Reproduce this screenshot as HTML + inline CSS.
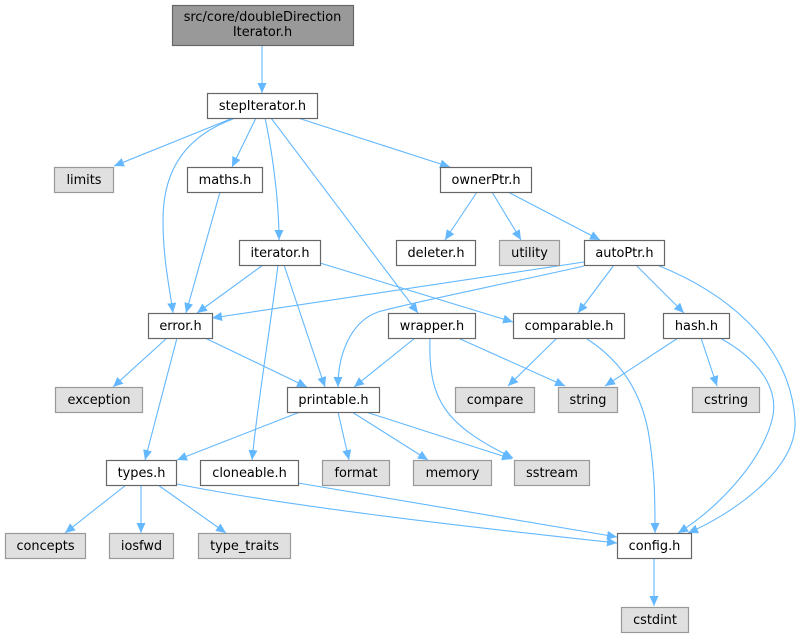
<!DOCTYPE html>
<html><head><meta charset="utf-8"><style>
html,body{margin:0;padding:0;background:#fff;}
svg{display:block;}
text{font-family:"DejaVu Sans","Liberation Sans",sans-serif;font-size:12.9px;fill:#000;text-anchor:middle;}
.e{fill:none;stroke:#63b8ff;stroke-width:1.1;marker-end:url(#a);}
.w{fill:#fff;stroke:#666;stroke-width:1.2;}
.g{fill:#e0e0e0;stroke:#999;stroke-width:1.2;}
</style></head><body>
<svg width="801" height="637" viewBox="0 0 801 637" xmlns="http://www.w3.org/2000/svg">
<defs>
<marker id="a" markerUnits="userSpaceOnUse" markerWidth="12" markerHeight="10" refX="10" refY="4.5" orient="auto">
<path d="M0,0 L10,4.5 L0,9z" fill="#63b8ff"/>
</marker>
</defs>
<!-- edges -->
<path class="e" d="M262,45 L262,93"/>
<path class="e" d="M233,118 L114,166"/>
<path class="e" d="M233,119 C190,135 163,165 163,220 C163,260 170,290 173,313"/>
<path class="e" d="M256,118 L232,167"/>
<path class="e" d="M265,118 C272,150 279,200 279,240"/>
<path class="e" d="M271,118 L418,313"/>
<path class="e" d="M298,118 L450,167"/>
<path class="e" d="M220,192 L186,313"/>
<path class="e" d="M477,192 L445,240"/>
<path class="e" d="M492,192 L521,240"/>
<path class="e" d="M508,192 L600,240"/>
<path class="e" d="M263,265 L197,313"/>
<path class="e" d="M284,265 L325,387"/>
<path class="e" d="M278,265 C270,330 258,400 252,460"/>
<path class="e" d="M320,263 L513,322"/>
<path class="e" d="M584,262 L212,318"/>
<path class="e" d="M584,266 C500,285 400,305 378,312 C350,322 338,355 338,387"/>
<path class="e" d="M614,265 L578,313"/>
<path class="e" d="M636,265 L684,313"/>
<path class="e" d="M657,265 C720,290 790,340 795,420 C798,470 730,515 688,533"/>
<path class="e" d="M167,338 L113,387"/>
<path class="e" d="M177,338 L145,460"/>
<path class="e" d="M205,338 L307,387"/>
<path class="e" d="M415,338 L354,387"/>
<path class="e" d="M458,338 L565,386"/>
<path class="e" d="M430,339 C428,400 445,425 513,458"/>
<path class="e" d="M557,338 L508,386"/>
<path class="e" d="M587,339 C620,360 640,390 648,430 C655,470 655,500 655,533"/>
<path class="e" d="M678,338 L605,386"/>
<path class="e" d="M701,338 L717,386"/>
<path class="e" d="M720,338 C760,360 780,390 772,420 C760,465 715,510 678,533"/>
<path class="e" d="M300,412 L177,460"/>
<path class="e" d="M338,412 L349,460"/>
<path class="e" d="M352,412 L428,460"/>
<path class="e" d="M366,412 L512,459"/>
<path class="e" d="M126,485 L65,533"/>
<path class="e" d="M141,485 L141,533"/>
<path class="e" d="M158,485 L226,533"/>
<path class="e" d="M177,484 C280,505 450,525 617,543"/>
<path class="e" d="M298,483 L617,537"/>
<path class="e" d="M654,558 L654,606"/>
<!-- nodes -->
<rect x="172.5" y="5.5" width="181" height="40" fill="#999" stroke="#666" stroke-width="1.2"/>
<text x="262.5" y="21">src/core/doubleDirection</text>
<text x="262.5" y="36">Iterator.h</text>

<rect class="w" x="207.5" y="93.5" width="110" height="25"/><text x="262.5" y="110">stepIterator.h</text>
<rect class="g" x="54.5" y="167.5" width="59" height="25"/><text x="84" y="184">limits</text>
<rect class="w" x="187.5" y="167.5" width="75" height="25"/><text x="225" y="184">maths.h</text>
<rect class="w" x="440.5" y="167.5" width="91" height="25"/><text x="486" y="184">ownerPtr.h</text>
<rect class="w" x="396.5" y="240.5" width="79" height="25"/><text x="436" y="257">deleter.h</text>
<rect class="g" x="499.5" y="240.5" width="60" height="25"/><text x="529.5" y="257">utility</text>
<rect class="w" x="584.5" y="240.5" width="80" height="25"/><text x="624.5" y="257">autoPtr.h</text>
<rect class="w" x="239.5" y="240.5" width="81" height="25"/><text x="280" y="257">iterator.h</text>
<rect class="w" x="148.5" y="313.5" width="64" height="25"/><text x="180.5" y="330">error.h</text>
<rect class="w" x="388.5" y="313.5" width="87" height="25"/><text x="432" y="330">wrapper.h</text>
<rect class="w" x="513.5" y="313.5" width="111" height="25"/><text x="569" y="330">comparable.h</text>
<rect class="w" x="663.5" y="313.5" width="66" height="25"/><text x="696.5" y="330">hash.h</text>
<rect class="g" x="55.5" y="387.5" width="87" height="25"/><text x="99" y="404">exception</text>
<rect class="w" x="287.5" y="387.5" width="92" height="25"/><text x="333.5" y="404">printable.h</text>
<rect class="g" x="455.5" y="387.5" width="79" height="25"/><text x="495" y="404">compare</text>
<rect class="g" x="558.5" y="387.5" width="59" height="25"/><text x="588" y="404">string</text>
<rect class="g" x="692.5" y="387.5" width="67" height="25"/><text x="726" y="404">cstring</text>
<rect class="w" x="106.5" y="460.5" width="70" height="25"/><text x="141.5" y="477">types.h</text>
<rect class="w" x="200.5" y="460.5" width="98" height="25"/><text x="249.5" y="477">cloneable.h</text>
<rect class="g" x="322.5" y="460.5" width="67" height="25"/><text x="356" y="477">format</text>
<rect class="g" x="413.5" y="460.5" width="78" height="25"/><text x="452.5" y="477">memory</text>
<rect class="g" x="514.5" y="460.5" width="75" height="25"/><text x="552" y="477">sstream</text>
<rect class="g" x="5.5" y="533.5" width="80" height="25"/><text x="45.5" y="550">concepts</text>
<rect class="g" x="109.5" y="533.5" width="64" height="25"/><text x="141.5" y="550">iosfwd</text>
<rect class="g" x="198.5" y="533.5" width="92" height="25"/><text x="244.5" y="550">type_traits</text>
<rect class="w" x="617.5" y="533.5" width="74" height="25"/><text x="654.5" y="550">config.h</text>
<rect class="g" x="621.5" y="607.5" width="67" height="25"/><text x="655" y="624">cstdint</text>
</svg>
</body></html>
